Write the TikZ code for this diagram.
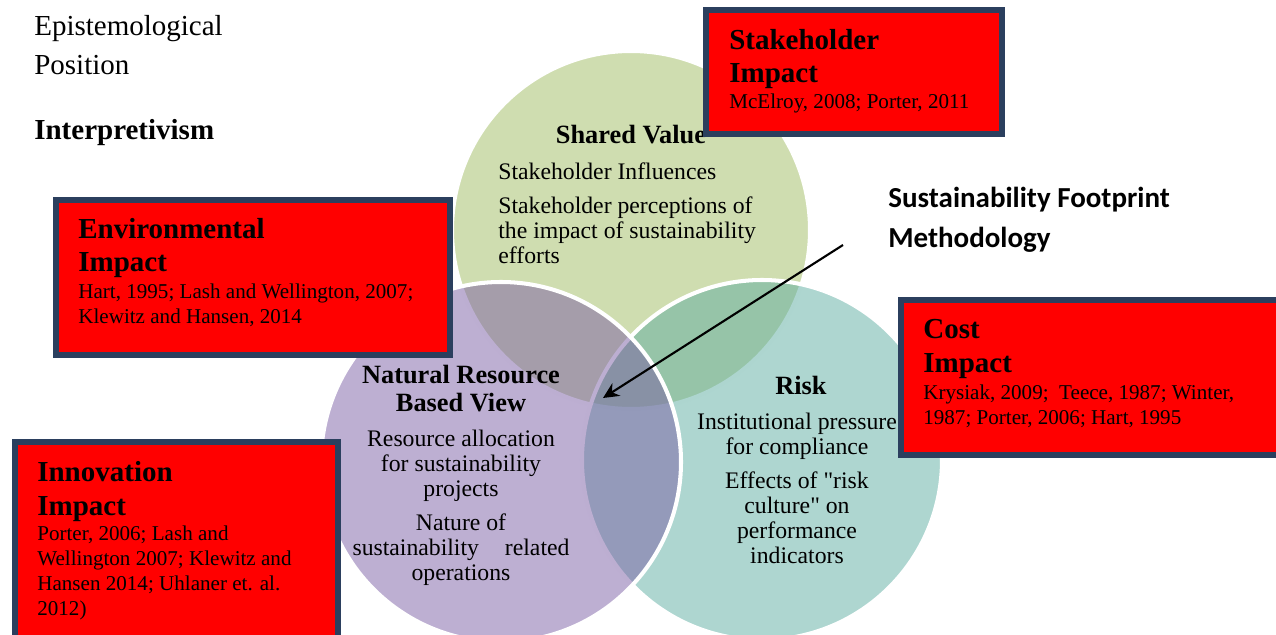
\documentclass[tikz,border=0pt]{standalone}
\usepackage{fontspec}
\setmainfont{Liberation Serif}[Ligatures=TeXOff]
\newfontfamily\calibri{Carlito}
\usetikzlibrary{arrows.meta}
\definecolor{svgreen}{RGB}{159,187,97}
\definecolor{riskteal}{RGB}{93,173,161}
\definecolor{nrbvpurple}{RGB}{123,95,165}
\definecolor{boxnavy}{RGB}{43,63,94}

\begin{document}
\begin{tikzpicture}[x=0.02cm, y=-0.02cm,
  venn/.style={draw=white, line width=2.3pt, fill opacity=0.5},
  impactbox/.style={draw=boxnavy, fill=red, line width=3.4pt},
  lbl/.style={inner sep=0pt, anchor=base west, align=left},
  clbl/.style={inner sep=0pt, anchor=base, align=center},
  impacttitle/.style={lbl, font=\fontsize{16.5}{19.1}\selectfont\bfseries},
  impactcite/.style={lbl, font=\fontsize{12}{14.1}\selectfont},
  circlehead/.style={clbl, font=\fontsize{15}{15.9}\selectfont\bfseries},
  circlebody/.style={font=\fontsize{13.5}{14.2}\selectfont}]
  \useasboundingbox (0,0) rectangle (1276,635);
  % Three overlapping circles, each one washing over the one before
  \filldraw[venn, fill=svgreen] (631,230) circle (179);
  \filldraw[venn, fill=riskteal] (762,460) circle (180);
  \filldraw[venn, fill=nrbvpurple] (501,462) circle (180);
  % Text inside the circles (placed at the baseline of the last line)
  \node[circlehead] (sharedhead) at (631,144) {Shared Value};
  \node[lbl, circlebody] (sharedtext) at (498,263)
    {Stakeholder Influences\\[4.8pt]
     Stakeholder perceptions of\\the impact of sustainability\\efforts};
  \node[circlehead] (nrbvhead) at (461,411) {Natural Resource\\Based View};
  \node[clbl, circlebody] (nrbvtext) at (461,580)
    {Resource allocation\\for sustainability\\projects\\[4.8pt]
     Nature of\\\makebox[4.34cm][s]{sustainability related}\\operations};
  \node[circlehead] (riskhead) at (801,394) {Risk};
  \node[clbl, circlebody] (risktext) at (797,563)
    {Institutional pressure\\for compliance\\[4.8pt]
     Effects of "risk\\culture" on\\performance\\indicators};
  % Arrow into the middle
  \coordinate (arrowstart) at (843,245);
  \coordinate (arrowtip) at (603,398);
  \draw[-{Stealth[length=9pt, width=8.5pt]}, line width=1.2pt] (arrowstart) -- (arrowtip);
  % Impact boxes
  \draw[impactbox] (706,10) rectangle (1002,134);
  \node[impacttitle] (stakeholder) at (729,83) {Stakeholder\\Impact};
  \node[impactcite] (stakecite) at (729,109) {McElroy, 2008; Porter, 2011};
  \draw[impactbox] (56,200) rectangle (450,355);
  \node[impacttitle] (environmental) at (78,272) {Environmental\\Impact};
  \node[impactcite] (envcite) at (78,323)
    {Hart, 1995; Lash and Wellington, 2007;\\Klewitz and Hansen, 2014};
  \draw[impactbox] (15,442) rectangle (338,650);
  \node[impacttitle] (innovation) at (37,515) {Innovation\\Impact};
  \node[impactcite] (innocite) at (37,615)
    {Porter, 2006; Lash and\\Wellington 2007; Klewitz and\\Hansen 2014; Uhlaner et. al.\\2012)};
  \draw[impactbox] (901,300) rectangle (1290,455);
  \node[impacttitle] (cost) at (923,372) {Cost\\Impact};
  \node[impactcite] (costcite) at (923,424)
    {Krysiak, 2009;\ \ Teece, 1987; Winter,\\1987; Porter, 2006; Hart, 1995};
  % Side labels
  \node[lbl, font=\fontsize{16.5}{22.2}\selectfont] (epistem) at (34,75)
    {Epistemological\\Position};
  \node[lbl, font=\fontsize{16.5}{19}\selectfont\bfseries] (interpret) at (34,140)
    {Interpretivism};
  \node[lbl, font=\fontsize{16.5}{22.8}\selectfont\calibri\bfseries] (footprint) at (888,248)
    {Sustainability Footprint\\Methodology};
\end{tikzpicture}
\end{document}
